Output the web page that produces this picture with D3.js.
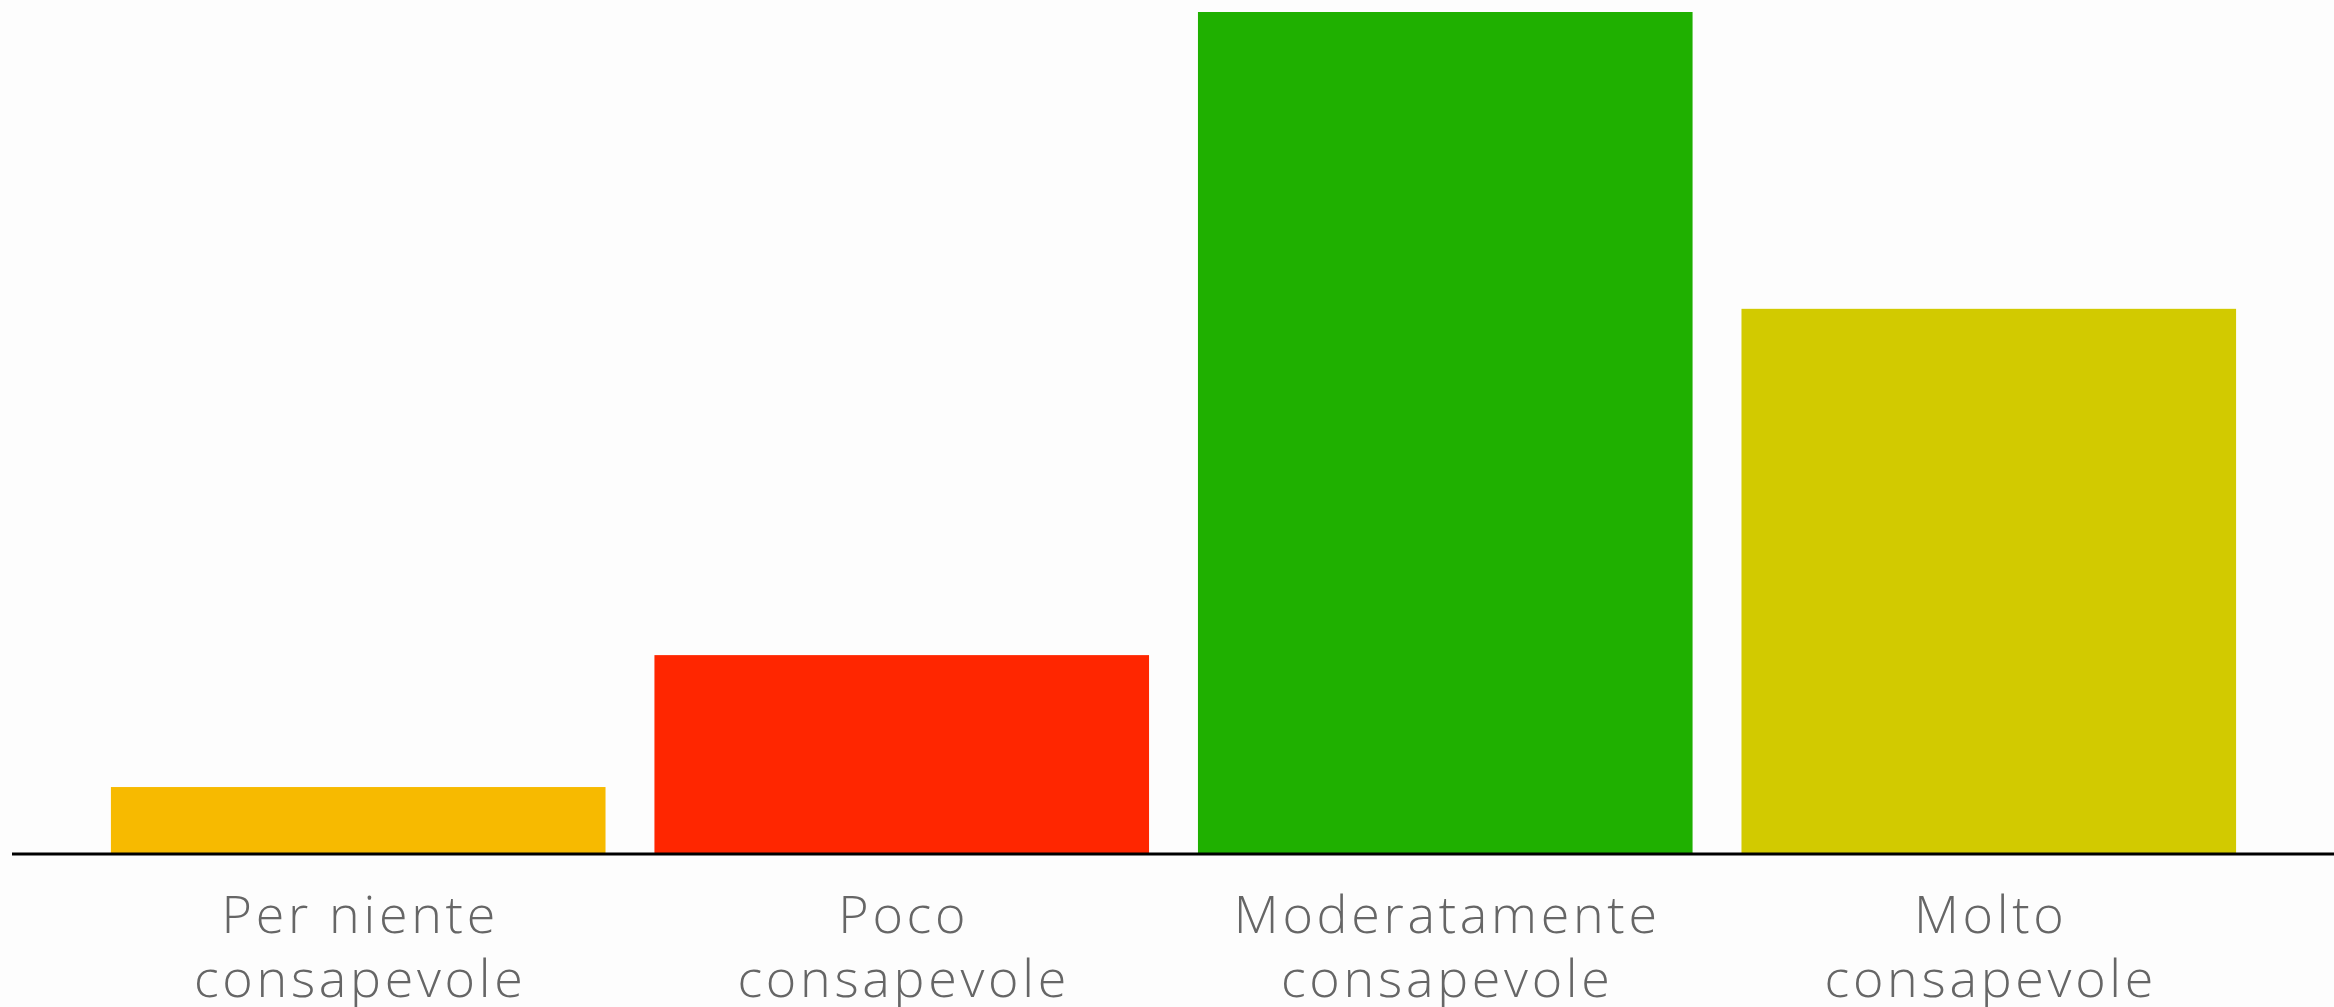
<!DOCTYPE html>
<html lang="it">
<head>
<meta charset="UTF-8" />
<title>Consapevolezza</title>
<style>
  html, body { margin: 0; padding: 0; background: #fdfdfd; }
  svg { display: block; }
  .tick text { font-family: "Open Sans", sans-serif; font-weight: 300; fill: #666; }
</style>
</head>
<body>
<div id="chart"></div>
<script src="https://cdn.jsdelivr.net/npm/d3@7"></script>
<script>
var categories = ["Per niente consapevole", "Poco consapevole", "Moderatamente consapevole", "Molto consapevole"];
var labelLines = [["Per niente", "consapevole"], ["Poco", "consapevole"], ["Moderatamente", "consapevole"], ["Molto", "consapevole"]];
var values = [4, 12, 51, 33];
var colors = ["#f7ba00", "#ff2600", "#1fb000", "#d2ca00"];

var width = 2334, height = 1007;
var baseY = 853, topY = 12;

var svg = d3.select("#chart").append("svg")
  .attr("width", width)
  .attr("height", height);

svg.append("rect").attr("width", width).attr("height", height).attr("fill", "#fdfdfd");

var x = d3.scaleBand()
  .domain(categories)
  .range([62, 2285])
  .paddingInner(0.09)
  .paddingOuter(0.09);

var y = d3.scaleLinear()
  .domain([0, d3.max(values)])
  .range([baseY, topY]);

svg.selectAll(".bar")
  .data(values)
  .enter().append("rect")
  .attr("class", "bar")
  .attr("x", function(d, i) { return x(categories[i]); })
  .attr("width", x.bandwidth())
  .attr("y", function(d) { return y(d); })
  .attr("height", function(d) { return baseY - y(d); })
  .attr("fill", function(d, i) { return colors[i]; });

// baseline
svg.append("line")
  .attr("x1", 12).attr("x2", width)
  .attr("y1", baseY + 1).attr("y2", baseY + 1)
  .attr("stroke", "#000").attr("stroke-width", 2.8);

var xAxis = d3.axisBottom(x).tickSize(0).tickFormat("");
var gx = svg.append("g")
  .attr("transform", "translate(0," + baseY + ")")
  .call(xAxis);
gx.select(".domain").remove();

gx.selectAll(".tick text")
  .attr("font-size", 52)
  .attr("letter-spacing", 3.7)
  .attr("y", 0)
  .attr("dy", null)
  .each(function(d, i) {
    var t = d3.select(this);
    labelLines[i].forEach(function(s, k) {
      t.append("tspan")
        .attr("x", 2)
        .attr("y", 80 + k * 64)
        .text(s);
    });
  });
</script>
</body>
</html>
